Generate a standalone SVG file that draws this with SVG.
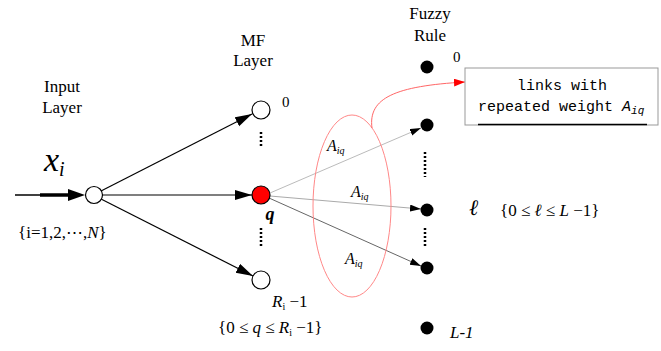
<svg xmlns="http://www.w3.org/2000/svg" width="661" height="351" viewBox="0 0 661 351">
<style>
text { font-family: "Liberation Serif", "Times New Roman", serif; fill: #000; }
.lbl { font-size: 17px; text-anchor: middle; }
.it { font-style: italic; }
.num { font-size: 15px; }
.mf { fill: #fff; stroke: #000; stroke-width: 1.2; }
.rule { fill: #000; }
.mono { font-family: "Liberation Mono", "DejaVu Sans Mono", monospace; font-size: 15px; }
.dots { stroke: #000; stroke-width: 2.5; stroke-dasharray: 2 2; fill: none; }
.conn { fill: none; stroke: #000; stroke-width: 1.2; }
.w { font-size: 16px; font-style: italic; }
</style>
<defs>
<marker id="ah" markerWidth="18" markerHeight="12" refX="17" refY="5" orient="auto" markerUnits="userSpaceOnUse"><path d="M0,0 L17,5 L0,10 z" fill="#000"/></marker>
<marker id="ahs" markerWidth="12" markerHeight="8" refX="11" refY="3.5" orient="auto" markerUnits="userSpaceOnUse"><path d="M0,0 L11,3.5 L0,7 z" fill="#000"/></marker>
<marker id="ahr" markerWidth="12" markerHeight="10" refX="11" refY="4" orient="auto" markerUnits="userSpaceOnUse"><path d="M0,0 L11,4 L0,8 z" fill="#f00"/></marker>
</defs>

<!-- layer titles -->
<g id="titles">
<text class="lbl" x="62" y="92">Input</text>
<text class="lbl" x="62" y="113">Layer</text>
<text class="lbl" x="253" y="46">MF</text>
<text class="lbl" x="253" y="66">Layer</text>
<text class="lbl" x="430" y="19">Fuzzy</text>
<text class="lbl" x="430" y="41">Rule</text>
</g>

<!-- connectors -->
<g id="connectors">
<line x1="15" y1="195" x2="72" y2="195" stroke="#000" stroke-width="1.3"/>
<line x1="40" y1="195" x2="72" y2="195" stroke="#000" stroke-width="3.5"/>
<polygon points="68,189 85,195 68,201" fill="#000"/>
<path class="conn" d="M101,191 L252,114" marker-end="url(#ah)"/>
<path class="conn" d="M103,195 L252,195" marker-end="url(#ah)"/>
<path class="conn" d="M101,199 L253,276" marker-end="url(#ah)"/>
<path d="M270,193 L421,128" fill="none" stroke="#bbb" stroke-width="1" marker-end="url(#ahs)"/>
<path d="M270,196 L421,209" fill="none" stroke="#aaa" stroke-width="1" marker-end="url(#ahs)"/>
<path d="M269,198 L421,266" fill="none" stroke="#666" stroke-width="1" marker-end="url(#ahs)"/>
<ellipse cx="352" cy="206" rx="39" ry="91" fill="none" stroke="#f88" stroke-width="1"/>
<path d="M372,128 C368,98 395,86 465,82" fill="none" stroke="#f66" stroke-width="1" marker-end="url(#ahr)"/>
</g>

<!-- input node -->
<g id="input-node">
<circle class="mf" cx="94" cy="195" r="8.5"/>
<text class="it" x="44" y="171" font-size="34">x<tspan font-size="20" dy="5">i</tspan></text>
<text x="18" y="238" font-size="17">{i=1,2,⋯,<tspan class="it">N</tspan>}</text>
</g>

<!-- MF nodes -->
<g id="mf-0">
<circle class="mf" cx="261" cy="110" r="9"/>
<text class="num" x="282" y="107">0</text>
</g>
<line class="dots" x1="261" y1="132" x2="261" y2="146"/>
<g id="mf-q">
<circle cx="261" cy="195" r="9" fill="#f00" stroke="#000" stroke-width="1.2"/>
<text x="270" y="220" font-size="18" font-weight="bold" font-style="italic" text-anchor="middle">q</text>
</g>
<line class="dots" x1="261" y1="228" x2="261" y2="247"/>
<g id="mf-R">
<circle class="mf" cx="261" cy="280" r="9"/>
<text x="272" y="307" font-size="17"><tspan class="it">R</tspan><tspan font-size="10" dy="3">i</tspan><tspan dy="-3"> −1</tspan></text>
<text x="218" y="333" font-size="17">{0 ≤ <tspan class="it">q</tspan> ≤ <tspan class="it">R</tspan><tspan font-size="10" dy="3">i</tspan><tspan dy="-3"> −1}</tspan></text>
</g>

<!-- weight labels -->
<g id="weights">
<text class="w" x="327" y="151">A<tspan font-size="10" dy="3">iq</tspan></text>
<text class="w" x="351" y="197">A<tspan font-size="10" dy="3">iq</tspan></text>
<text class="w" x="345" y="264">A<tspan font-size="10" dy="3">iq</tspan></text>
</g>

<!-- fuzzy rule nodes -->
<g id="rule-0">
<circle class="rule" cx="427" cy="67" r="6.5"/>
<text class="num" x="453" y="62">0</text>
</g>
<g id="rule-1">
<circle class="rule" cx="427" cy="125" r="6.5"/>
</g>
<line class="dots" x1="425" y1="152" x2="425" y2="177"/>
<g id="rule-l">
<circle class="rule" cx="427" cy="210" r="6.5"/>
<text class="it" x="469" y="215" font-size="22">ℓ</text>
<text x="500" y="216" font-size="17">{0 ≤ <tspan class="it">ℓ</tspan> ≤ <tspan class="it">L</tspan> −1}</text>
</g>
<line class="dots" x1="425" y1="228" x2="425" y2="247"/>
<g id="rule-3">
<circle class="rule" cx="427" cy="268" r="6.5"/>
</g>
<g id="rule-last">
<circle class="rule" cx="427" cy="328" r="6.5"/>
<text class="it" x="450" y="338" font-size="17">L-1</text>
</g>

<!-- note box -->
<g id="note">
<rect x="465" y="68" width="193" height="57" fill="#fff" stroke="#999" stroke-width="1"/>
<line x1="478" y1="124.5" x2="647" y2="124.5" stroke="#000" stroke-width="1.5"/>
<text class="mono" x="562" y="90" text-anchor="middle">links with</text>
<text class="mono" x="478" y="111">repeated weight <tspan font-style="italic">A</tspan><tspan font-style="italic" font-size="11" dy="3">iq</tspan></text>
</g>
</svg>
